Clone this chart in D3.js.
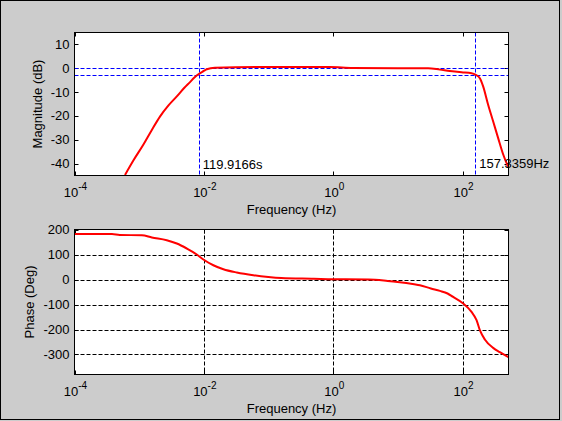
<!DOCTYPE html>
<html><head><meta charset="utf-8">
<script src="https://cdn.jsdelivr.net/npm/d3@7"></script>
<style>
html,body{margin:0;padding:0;background:#cccccc;}
svg{display:block;}
text{font-family:"Liberation Sans",Arial,Helvetica,sans-serif;fill:#000;}
</style></head>
<body><svg id="c" width="562" height="421"></svg>
<script>
// ---- data ----
const magFreq = [6.03e-4, 8.17e-4, 1.164e-3, 1.57e-3, 2.109e-3, 2.84e-3, 3.82e-3, 5.0e-3, 6.12e-3, 7.08e-3, 7.94e-3, 0.01, 0.0111, 0.0148, 0.0794, 0.891, 2.0, 10, 29.4, 44.7, 63.7, 96.6, 137.7, 160.7, 185.4, 208.4, 248.9, 297.2, 354.8, 424.6, 488.7, 514];
const magDb   = [-44.8, -38.6, -32.0, -25.9, -20.2, -15.6, -11.8, -8.2, -5.8, -4.0, -2.8, -1.1, -0.4, 0.2, 0.5, 0.5, 0.1, 0, 0, -0.58, -1.13, -1.67, -2.08, -2.79, -4.17, -7.6, -15.3, -22.25, -29.2, -36.1, -40.3, -41.5];
const phFreq  = [1e-4, 3.8e-4, 5.0e-4, 1.1e-3, 1.57e-3, 2.67e-3, 3.82e-3, 5.44e-3, 7.78e-3, 9.84e-3, 0.01403, 0.02004, 0.0323, 0.0582, 0.0993, 0.158, 0.501, 1, 3.55, 6.95, 9.91, 17.9, 21.9, 32.4, 44.7, 58.7, 71.6, 100, 137.7, 164.8, 185.4, 221.3, 297.2, 377.6, 514];
const phDeg   = [182, 182, 178, 177, 168, 157, 144, 124, 100, 80, 57, 41, 28, 17, 10, 6, 3, 1, 0, -5.6, -9.6, -18.8, -22.8, -36, -45.6, -56, -69.6, -93.6, -129.6, -162.8, -202.8, -240, -273.6, -290.8, -311];
const xTicks  = [1e-4, 1e-2, 1, 100];
const xTickExp = ["-4", "-2", "0", "2"];
const magTicks = [10, 0, -10, -20, -30, -40];
const phTicks  = [200, 100, 0, -100, -200, -300];
const fLow = 1/119.9166, fHigh = 157.3359;
const markLevels = [0, -3];
const labelLow = "119.9166s", labelHigh = "157.3359Hz";
const xLabel = "Frequency (Hz)", magLabel = "Magnitude (dB)", phLabel = "Phase (Deg)";

const svg = d3.select("#c");
svg.append("rect").attr("x",0.5).attr("y",0.5).attr("width",559).attr("height",419)
  .attr("fill","#cccccc").attr("stroke","#000");

const L = 74.5, R = 508.5;
const x = d3.scaleLog().domain([1e-4, 514]).range([L, R]);

function panel(id, top, bottom, ydom, yticks, grid){
  const y = d3.scaleLinear().domain(ydom).range([bottom, top]);
  const g = svg.append("g");
  g.append("rect").attr("x",L).attr("y",top).attr("width",R-L).attr("height",bottom-top).attr("fill","#fff");
  g.append("clipPath").attr("id",id).append("rect").attr("x",L).attr("y",top).attr("width",R-L).attr("height",bottom-top);
  if(grid){
    g.selectAll(".gx").data(xTicks.slice(1)).enter().append("line")
      .attr("x1",d=>Math.round(x(d))+0.5).attr("x2",d=>Math.round(x(d))+0.5).attr("y1",top).attr("y2",bottom)
      .attr("stroke","#000").attr("stroke-dasharray","4,2");
    g.selectAll(".gy").data(yticks.filter(v=>v<ydom[1]-1)).enter().append("line")
      .attr("y1",d=>Math.round(y(d))+0.5).attr("y2",d=>Math.round(y(d))+0.5).attr("x1",L).attr("x2",R)
      .attr("stroke","#000").attr("stroke-dasharray","4,2");
  }
  const ax = g.append("g");
  xTicks.forEach(t=>{
    const xx = Math.round(x(t))+0.5;
    ax.append("line").attr("x1",xx).attr("x2",xx).attr("y1",bottom).attr("y2",bottom-4).attr("stroke","#000");
    ax.append("line").attr("x1",xx).attr("x2",xx).attr("y1",top).attr("y2",top+4).attr("stroke","#000");
  });
  yticks.forEach(t=>{
    const yy = Math.round(y(t))+0.5;
    ax.append("line").attr("x1",L).attr("x2",L+4).attr("y1",yy).attr("y2",yy).attr("stroke","#000");
    ax.append("line").attr("x1",R).attr("x2",R-4).attr("y1",yy).attr("y2",yy).attr("stroke","#000");
  });
  xTicks.forEach((t,i)=>{
    const tx = g.append("text").attr("x",x(t)+1).attr("y",bottom+21).attr("text-anchor","middle").attr("font-size",13);
    tx.append("tspan").text("10");
    tx.append("tspan").attr("font-size",10).attr("dy",-7).text(xTickExp[i]);
  });
  yticks.forEach(t=>{
    g.append("text").attr("x",L-5).attr("y",y(t)+4.5).attr("text-anchor","end").attr("font-size",13).text(t);
  });
  g.append("text").attr("x",(L+R)/2).attr("y",bottom+38).attr("text-anchor","middle").attr("font-size",13).text(xLabel);
  return {g,y};
}

// Magnitude panel
const p1 = panel("clip1", 32.5, 175.5, [-45, 15], magTicks, false);
p1.g.append("text").attr("transform",`translate(42,${(32.5+175.5)/2}) rotate(-90)`).attr("text-anchor","middle").attr("font-size",13).text(magLabel);
const blue = p1.g.append("g").attr("stroke","#0000ff").attr("stroke-dasharray","4,2");
markLevels.forEach(v=>{
  blue.append("line").attr("x1",L).attr("x2",R).attr("y1",Math.round(p1.y(v))+0.5).attr("y2",Math.round(p1.y(v))+0.5);
});
[fLow, fHigh].forEach(f=>{
  blue.append("line").attr("x1",Math.round(x(f))+0.5).attr("x2",Math.round(x(f))+0.5).attr("y1",32.5).attr("y2",175.5);
});
const line1 = d3.line().x((d,i)=>x(magFreq[i])).y(d=>p1.y(d)).curve(d3.curveMonotoneX);
p1.g.append("path").datum(magDb).attr("d",line1).attr("fill","none").attr("stroke","#ff0000").attr("stroke-width",2).attr("clip-path","url(#clip1)");
p1.g.append("text").attr("x",x(fLow)+4).attr("y",169).attr("font-size",13).text(labelLow);
p1.g.append("text").attr("x",x(fHigh)+4).attr("y",168).attr("font-size",13).text(labelHigh);
p1.g.append("rect").attr("x",L).attr("y",32.5).attr("width",R-L).attr("height",143).attr("fill","none").attr("stroke","#000");

// Phase panel
const p2 = panel("clip2", 229.5, 374.5, [-380, 200], phTicks, true);
p2.g.append("text").attr("transform",`translate(34,${(229.5+374.5)/2}) rotate(-90)`).attr("text-anchor","middle").attr("font-size",13).text(phLabel);
const line2 = d3.line().x((d,i)=>x(phFreq[i])).y(d=>p2.y(d)).curve(d3.curveMonotoneX);
p2.g.append("path").datum(phDeg).attr("d",line2).attr("fill","none").attr("stroke","#ff0000").attr("stroke-width",2).attr("clip-path","url(#clip2)");
p2.g.append("rect").attr("x",L).attr("y",229.5).attr("width",R-L).attr("height",145).attr("fill","none").attr("stroke","#000");
</script></body></html>
